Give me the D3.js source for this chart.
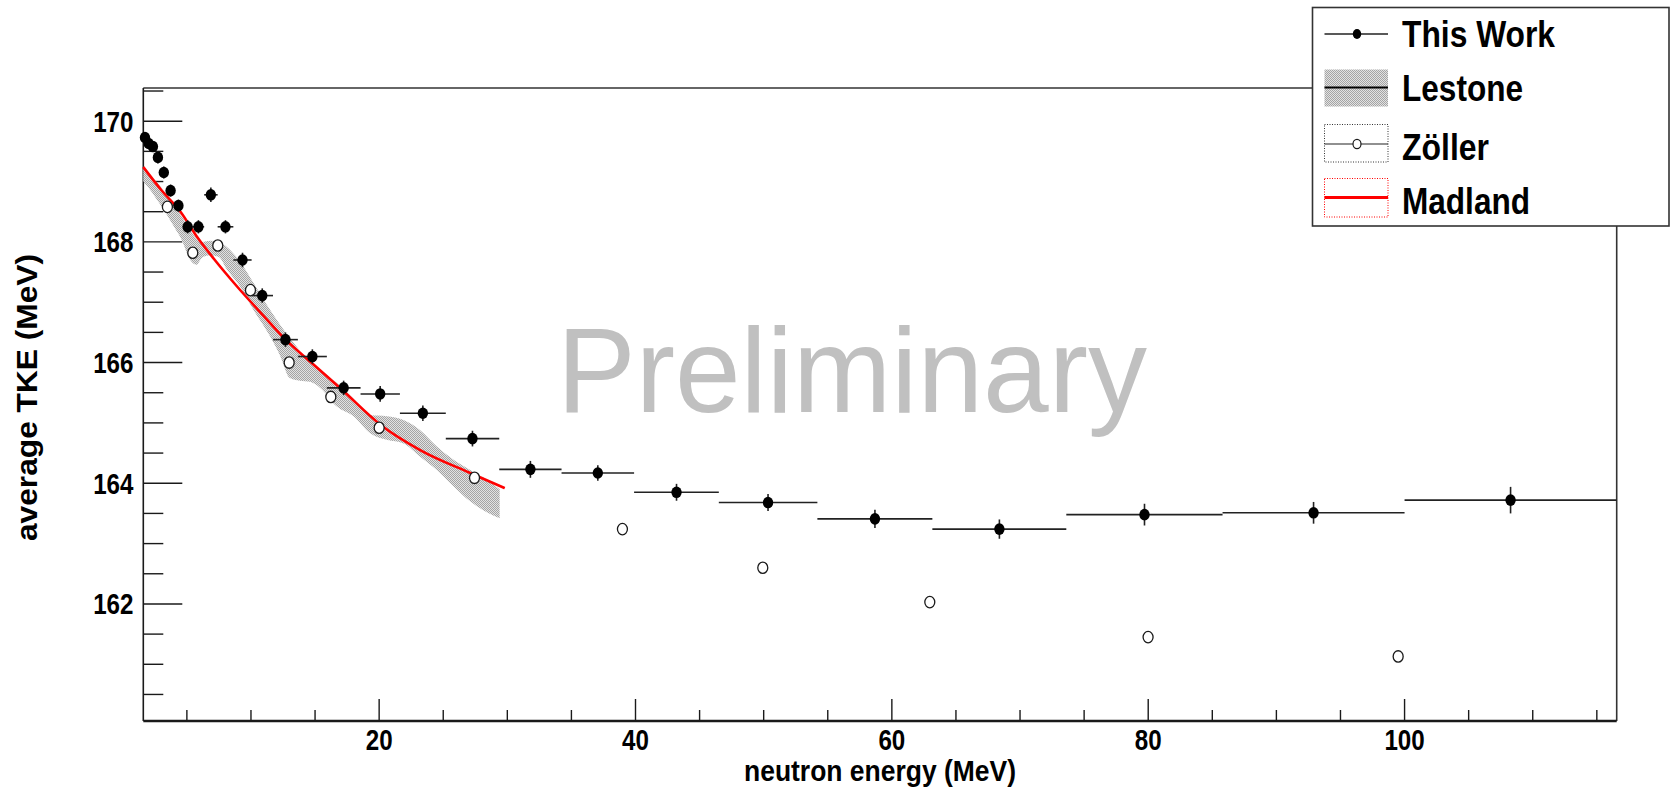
<!DOCTYPE html>
<html>
<head>
<meta charset="utf-8">
<script src="https://cdn.jsdelivr.net/npm/d3@7"></script>
<style>
  html, body { margin: 0; padding: 0; background: #ffffff; }
  svg { display: block; }
  text { font-family: "Liberation Sans", Arial, Helvetica, sans-serif; }
</style>
</head>
<body>
<svg id="chart" width="1671" height="793"></svg>
<script>
// ---- This Work: average TKE per neutron-energy bin ----
const binLow  = [1.600, 1.865, 2.173, 2.533, 2.952, 3.441, 4.010, 4.674, 5.448, 6.349,
                 7.400, 8.625, 10.05, 11.72, 13.66, 15.92, 18.55, 21.62, 25.20, 29.37,
                 34.23, 39.89, 46.50, 54.19, 63.16, 73.61, 85.80, 100.0];
const binHigh = [1.865, 2.173, 2.533, 2.952, 3.441, 4.010, 4.674, 5.448, 6.349, 7.400,
                 8.625, 10.05, 11.72, 13.66, 15.92, 18.55, 21.62, 25.20, 29.37, 34.23,
                 39.89, 46.50, 54.19, 63.16, 73.61, 85.80, 100.0, 116.55];
const energy  = [1.73, 2.02, 2.35, 2.74, 3.20, 3.73, 4.34, 5.06, 5.90, 6.87,
                 8.01, 9.34, 10.88, 12.69, 14.79, 17.23, 20.08, 23.41, 27.28, 31.80,
                 37.06, 43.20, 50.34, 58.68, 68.39, 79.71, 92.90, 108.27];
const tke     = [169.73, 169.63, 169.58, 169.40, 169.15, 168.85, 168.60, 168.25, 168.25, 168.78,
                 168.25, 167.70, 167.11, 166.38, 166.10, 165.58, 165.48, 165.16, 164.74, 164.23,
                 164.17, 163.85, 163.68, 163.41, 163.24, 163.48, 163.51, 163.72];
const tkeErr  = [0.09, 0.09, 0.09, 0.10, 0.10, 0.10, 0.10, 0.11, 0.11, 0.12,
                 0.11, 0.12, 0.12, 0.12, 0.12, 0.12, 0.13, 0.13, 0.13, 0.14,
                 0.13, 0.14, 0.14, 0.15, 0.16, 0.18, 0.18, 0.22];

// ---- Zöller ----
const zollerEnergy = [3.48, 5.46, 7.41, 9.96, 12.98, 16.23, 20.0, 27.44, 38.98, 49.93, 62.96, 79.99, 99.5];
const zollerTke    = [168.58, 167.82, 167.94, 167.20, 166.00, 165.43, 164.92, 164.09, 163.24, 162.60, 162.03, 161.45, 161.13];

// ---- Lestone band (lower / upper edge) ----
const lestoneEnergy = [1.60, 2.00, 2.60, 3.30, 4.00, 4.60, 5.20, 5.75, 6.20, 6.80,
                       7.50, 8.10, 9.15, 10.2, 11.5, 12.3, 13.0, 13.8, 14.6, 15.4,
                       16.7, 18.0, 19.3, 20.6, 21.9, 23.2, 24.5, 25.8, 27.1, 28.4, 29.4];
const lestoneLow    = [169.00, 168.90, 168.72, 168.50, 168.25, 168.03, 167.72, 167.62, 167.74, 167.78,
                       167.75, 167.55, 167.26, 166.87, 166.43, 166.10, 165.75, 165.70, 165.68, 165.58,
                       165.27, 165.11, 164.83, 164.72, 164.66, 164.44, 164.22, 163.95, 163.70, 163.52, 163.42];
const lestoneHigh   = [169.25, 169.15, 169.00, 168.82, 168.62, 168.42, 168.22, 168.05, 168.00, 168.02,
                       168.00, 167.92, 167.67, 167.32, 166.87, 166.62, 166.42, 166.20, 166.00, 165.88,
                       165.66, 165.41, 165.13, 165.11, 165.05, 164.88, 164.61, 164.39, 164.22, 164.06, 163.90];

// ---- Madland ----
const madlandEnergy = [1.6, 3.0, 4.5, 5.9, 7.1, 9.0, 11.0, 12.6, 14.7, 17.1, 20.1, 23.2, 27.1, 29.8];
const madlandTke    = [169.24, 168.86, 168.50, 168.05, 167.72, 167.24, 166.77, 166.40, 166.00, 165.55, 164.97, 164.55, 164.17, 163.92];

// ---- Axes ----
const xTickLabels = [20, 40, 60, 80, 100];
const yTickLabels = [162, 164, 166, 168, 170];
const xDomain = [1.6, 116.55];
const yDomain = [160.06, 170.55];

const svg = d3.select("#chart");
const frame = { left: 143.3, right: 1616.7, top: 88, bottom: 721 };
const x = d3.scaleLinear().domain(xDomain).range([frame.left, frame.right]);
const y = d3.scaleLinear().domain(yDomain).range([frame.bottom, frame.top]);
const ink = "#1a1a1a";

// dithered grey fill used by the Lestone band
const defs = svg.append("defs");
const pat = defs.append("pattern").attr("id", "dither")
  .attr("width", 2).attr("height", 2).attr("patternUnits", "userSpaceOnUse");
pat.append("rect").attr("width", 2).attr("height", 2).attr("fill", "#e2e2e2");
pat.append("rect").attr("x", 0).attr("y", 0).attr("width", 1).attr("height", 1).attr("fill", "#a4a4a4");
pat.append("rect").attr("x", 1).attr("y", 1).attr("width", 1).attr("height", 1).attr("fill", "#a4a4a4");

// helper: condensed bold text
function label(parent, tx, ty, str, size, sx, anchor) {
  const g = parent.append("g").attr("transform", `translate(${tx},${ty}) scale(${sx},1)`);
  return g.append("text").attr("font-size", size).attr("font-weight", "bold")
    .attr("text-anchor", anchor).attr("fill", "#000").text(str);
}

// ---- frame ----
const axes = svg.append("g");
axes.append("line").attr("x1", frame.left).attr("x2", frame.right).attr("y1", frame.top).attr("y2", frame.top)
  .attr("stroke", "#333").attr("stroke-width", 1.6);
axes.append("line").attr("x1", frame.right).attr("x2", frame.right).attr("y1", frame.top).attr("y2", frame.bottom)
  .attr("stroke", "#333").attr("stroke-width", 1.6);

// x axis ticks: major every 20, minor every 5
const xMinor = d3.range(5, 116, 5);
axes.selectAll(".xt").data(xMinor).enter().append("line")
  .attr("x1", d => x(d)).attr("x2", d => x(d))
  .attr("y1", frame.bottom).attr("y2", d => frame.bottom - (d % 20 === 0 ? 22 : 11))
  .attr("stroke", ink).attr("stroke-width", 1.4);
// y axis ticks: major every 2, minor every 0.5
const yMinor = d3.range(160.5, 170.51, 0.5);
axes.selectAll(".yt").data(yMinor).enter().append("line")
  .attr("x1", frame.left).attr("x2", d => frame.left + (Math.abs(d % 2) < 1e-6 ? 39 : 20))
  .attr("y1", d => y(d)).attr("y2", d => y(d))
  .attr("stroke", ink).attr("stroke-width", 1.4);

axes.append("line").attr("x1", frame.left).attr("x2", frame.right).attr("y1", frame.bottom).attr("y2", frame.bottom)
  .attr("stroke", ink).attr("stroke-width", 2.4);
axes.append("line").attr("x1", frame.left).attr("x2", frame.left).attr("y1", frame.top).attr("y2", frame.bottom)
  .attr("stroke", ink).attr("stroke-width", 1.6);

xTickLabels.forEach(v => label(axes, x(v), 749.5, String(v), 29.5, 0.82, "middle"));
yTickLabels.forEach(v => label(axes, 133.5, y(v) + 10.5, String(v), 29.5, 0.82, "end"));

// axis titles
axes.append("text").attr("x", 880).attr("y", 781).attr("text-anchor", "middle")
  .attr("font-size", 29).attr("font-weight", "bold").attr("textLength", 272).attr("lengthAdjust", "spacingAndGlyphs")
  .text("neutron energy (MeV)");
axes.append("text").attr("transform", "translate(37,397.5) rotate(-90)").attr("text-anchor", "middle")
  .attr("font-size", 29).attr("font-weight", "bold").attr("textLength", 287).attr("lengthAdjust", "spacingAndGlyphs")
  .text("average TKE (MeV)");

// ---- Lestone band ----
const band = lestoneEnergy.map((e, i) => ({ e, lo: lestoneLow[i], hi: lestoneHigh[i] }));
svg.append("path").datum(band)
  .attr("d", d3.area().x(d => x(d.e)).y0(d => y(d.lo)).y1(d => y(d.hi)).curve(d3.curveMonotoneX))
  .attr("fill", "url(#dither)");

// ---- Madland ----
const mad = madlandEnergy.map((e, i) => ({ e, t: madlandTke[i] }));
svg.append("path").datum(mad)
  .attr("d", d3.line().x(d => x(d.e)).y(d => y(d.t)).curve(d3.curveMonotoneX))
  .attr("fill", "none").attr("stroke", "#ff0000").attr("stroke-width", 2.6);

// ---- Zöller ----
svg.append("g").selectAll("ellipse").data(zollerEnergy.map((e, i) => ({ e, t: zollerTke[i] })))
  .enter().append("ellipse")
  .attr("cx", d => x(d.e)).attr("cy", d => y(d.t)).attr("rx", 5).attr("ry", 5.7)
  .attr("fill", "#fff").attr("stroke", ink).attr("stroke-width", 1.3);

// ---- This Work ----
const work = energy.map((e, i) => ({ e, t: tke[i], err: tkeErr[i], lo: binLow[i], hi: binHigh[i] }));
const wg = svg.append("g");
wg.selectAll(".hbar").data(work).enter().append("line")
  .attr("x1", d => x(d.lo)).attr("x2", d => x(d.hi)).attr("y1", d => y(d.t)).attr("y2", d => y(d.t))
  .attr("stroke", "#222").attr("stroke-width", 1.6);
wg.selectAll(".vbar").data(work).enter().append("line")
  .attr("x1", d => x(d.e)).attr("x2", d => x(d.e)).attr("y1", d => y(d.t - d.err)).attr("y2", d => y(d.t + d.err))
  .attr("stroke", "#222").attr("stroke-width", 1.6);
wg.selectAll("ellipse").data(work).enter().append("ellipse")
  .attr("cx", d => x(d.e)).attr("cy", d => y(d.t)).attr("rx", 5.2).attr("ry", 5.8).attr("fill", "#000");

// ---- watermark ----
svg.append("text").attr("x", 557).attr("y", 412).attr("font-size", 120).attr("fill", "#c0c0c0")
  .attr("textLength", 590).attr("lengthAdjust", "spacingAndGlyphs")
  .text("Preliminary");

// ---- legend ----
const leg = svg.append("g");
leg.append("rect").attr("x", 1312.5).attr("y", 7.5).attr("width", 356.5).attr("height", 218.5)
  .attr("fill", "#fff").attr("stroke", "#333").attr("stroke-width", 1.6);
const sx0 = 1324.5, sx1 = 1388, sxm = 1357;
// This Work
leg.append("line").attr("x1", sx0).attr("x2", sx1).attr("y1", 34).attr("y2", 34).attr("stroke", "#222").attr("stroke-width", 1.4);
leg.append("ellipse").attr("cx", sxm).attr("cy", 34).attr("rx", 4.2).attr("ry", 5).attr("fill", "#000");
// Lestone
leg.append("rect").attr("x", sx0).attr("y", 69.5).attr("width", sx1 - sx0).attr("height", 37).attr("fill", "url(#dither)");
leg.append("line").attr("x1", sx0).attr("x2", sx1).attr("y1", 87.5).attr("y2", 87.5).attr("stroke", "#000").attr("stroke-width", 1.8);
// Zöller
leg.append("rect").attr("x", sx0).attr("y", 124.5).attr("width", sx1 - sx0).attr("height", 37.5)
  .attr("fill", "none").attr("stroke", "#333").attr("stroke-width", 1).attr("stroke-dasharray", "1,1.5");
leg.append("line").attr("x1", sx0).attr("x2", sx1).attr("y1", 144).attr("y2", 144).attr("stroke", "#222").attr("stroke-width", 1.2);
leg.append("ellipse").attr("cx", sxm).attr("cy", 144).attr("rx", 4).attr("ry", 4.6).attr("fill", "#fff").attr("stroke", ink).attr("stroke-width", 1.2);
// Madland
leg.append("rect").attr("x", sx0).attr("y", 178.5).attr("width", sx1 - sx0).attr("height", 38.5)
  .attr("fill", "none").attr("stroke", "#ff0000").attr("stroke-width", 1).attr("stroke-dasharray", "1,1.5");
leg.append("line").attr("x1", sx0).attr("x2", sx1).attr("y1", 197.5).attr("y2", 197.5).attr("stroke", "#ff0000").attr("stroke-width", 3);

const legendNames = ["This Work", "Lestone", "Zöller", "Madland"];
const legendBase = [47, 100.5, 160, 213.5];
const legendWidth = [153, 121, 87, 128];
legendNames.forEach((n, i) => {
  leg.append("text").attr("x", 1402).attr("y", legendBase[i]).attr("font-size", 36).attr("font-weight", "bold")
    .attr("textLength", legendWidth[i]).attr("lengthAdjust", "spacingAndGlyphs").text(n);
});
</script>
</body>
</html>
